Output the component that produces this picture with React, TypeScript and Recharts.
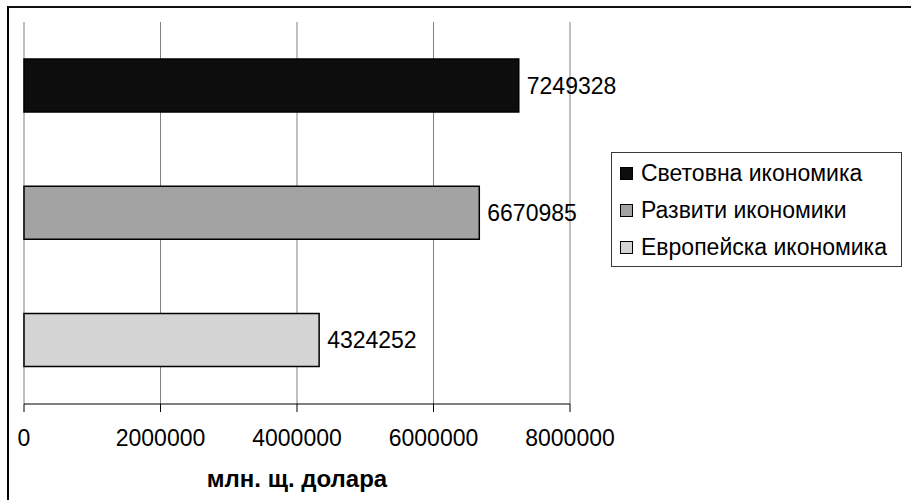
import { BarChart, Bar, XAxis, YAxis, CartesianGrid, Legend, LabelList } from 'recharts';

const categories = ['Световна икономика', 'Развити икономики', 'Европейска икономика'];
const seriesKeys = ['world', 'developed', 'europe'];
const values = [7249328, 6670985, 4324252];
const colors = ['#0d0d0d', '#a3a3a3', '#d4d4d4'];
const xTicks = [0, 2000000, 4000000, 6000000, 8000000];
const axisTitle = 'млн. щ. долара';

// one row per category, each row only carries its own series key (stacked so the bar keeps the full slot)
const data = categories.map((name, i) => ({ name, [seriesKeys[i]]: values[i] }));

const FONT = '"Liberation Sans", Arial, sans-serif';

function LegendBox({ payload }: any) {
  // keep the series order instead of recharts' alphabetical sort
  const items = [...(payload || [])].sort(
    (a: any, b: any) => categories.indexOf(a.value) - categories.indexOf(b.value)
  );
  return (
    <div
      style={{
        border: '1px solid #3a3a3a',
        background: '#fff',
        padding: '2px 0 0 0',
        fontFamily: FONT,
        fontSize: 23,
        color: '#000',
        boxSizing: 'border-box',
        height: 115,
      }}
    >
      {items.map((p: any) => (
        <div key={p.value} style={{ display: 'flex', alignItems: 'center', height: 37 }}>
          <span
            style={{
              display: 'inline-block',
              width: 11,
              height: 11,
              background: p.color,
              border: '1px solid #000',
              marginLeft: 8,
              marginRight: 8,
            }}
          />
          <span>{p.value}</span>
        </div>
      ))}
    </div>
  );
}

export default function App() {
  return (
    <div style={{ position: 'relative', width: 911, height: 500, overflow: 'hidden', background: '#fff' }}>
      <style>{'body{margin:0}'}</style>
      <div
        style={{
          position: 'absolute',
          left: 7,
          top: 6,
          width: 1000,
          height: 1000,
          borderLeft: '2px solid #000',
          borderTop: '2px solid #111',
        }}
      />
      <div style={{ position: 'absolute', left: 0, top: 0 }}>
        <BarChart
          width={911}
          height={500}
          data={data}
          layout="vertical"
          margin={{ top: 22, right: 50, bottom: 6, left: 24 }}
          barCategoryGap="29%"
          style={{ fontFamily: FONT }}
        >
          <CartesianGrid horizontal={false} stroke="#808080" strokeWidth={1} />
          <XAxis
            type="number"
            domain={[0, 8000000]}
            ticks={xTicks}
            interval={0}
            height={90}
            axisLine={{ stroke: '#000', strokeWidth: 1 }}
            tickLine={{ stroke: '#000' }}
            tickSize={8}
            tickMargin={18}
            tick={{ fill: '#000', fontSize: 23, fontFamily: FONT }}
            label={{
              value: axisTitle,
              position: 'insideBottom',
              offset: 7,
              fill: '#000',
              fontSize: 24,
              fontWeight: 'bold',
              fontFamily: FONT,
            }}
          />
          <XAxis
            xAxisId="top"
            type="number"
            orientation="top"
            domain={[0, 8000000]}
            height={0}
            tick={false}
            tickLine={false}
            axisLine={{ stroke: '#808080' }}
          />
          <YAxis type="category" dataKey="name" hide />
          <Legend
            layout="vertical"
            align="right"
            verticalAlign="top"
            content={LegendBox}
            wrapperStyle={{ left: 611, top: 152, width: 291, right: 'auto' }}
          />
          {seriesKeys.map((key, i) => (
            <Bar
              key={key}
              dataKey={key}
              name={categories[i]}
              stackId="a"
              fill={colors[i]}
              stroke="#000"
              strokeWidth={1.5}
              isAnimationActive={false}
            >
              <LabelList
                dataKey={key}
                position="right"
                offset={8}
                fill="#000"
                fontSize={23}
                fontFamily={FONT}
              />
            </Bar>
          ))}
        </BarChart>
      </div>
    </div>
  );
}
